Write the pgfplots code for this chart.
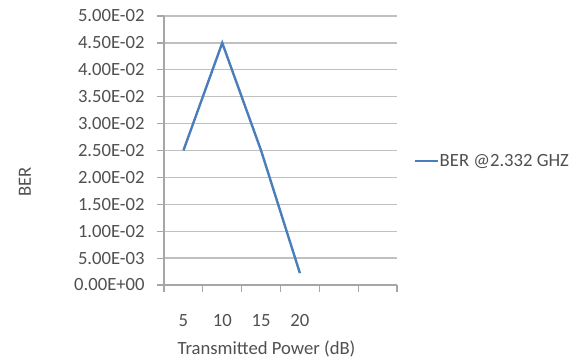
\documentclass[border=0pt]{standalone}
\usepackage{fontspec}
\setmainfont{Carlito}
\usepackage{pgfplots}
\pgfplotsset{compat=1.18}
\definecolor{txt}{HTML}{505050}
\definecolor{gridc}{HTML}{C0C0C0}
\definecolor{axc}{HTML}{A6A6A6}
\definecolor{ser}{HTML}{4A7EBB}
\begin{document}
\begin{tikzpicture}
\useasboundingbox (0,0) rectangle (436.5pt,270.75pt);
\begin{axis}[
  at={(123pt,57pt)}, anchor=south west,
  scale only axis, width=174.75pt, height=201.75pt,
  xmin=0, xmax=6, ymin=0, ymax=0.05,
  axis line style={axc, line width=0.9pt},
  axis x line*=bottom, axis y line*=left,
  xtick={0,1,2,3,4,5,6}, xticklabels={},
  extra x ticks={0.5,1.5,2.5,3.5},
  extra x tick labels={5,10,15,20},
  extra x tick style={major tick length=0pt, xticklabel style={yshift=-18.5pt}},
  ytick={0,0.005,0.01,0.015,0.02,0.025,0.03,0.035,0.04,0.045,0.05},
  yticklabels={0.00E+00,5.00E-03,1.00E-02,1.50E-02,2.00E-02,2.50E-02,3.00E-02,3.50E-02,4.00E-02,4.50E-02,5.00E-02},
  scaled y ticks=false,
  tick align=outside, major tick length=5pt,
  tick style={axc, line width=0.9pt},
  ymajorgrids, grid style={gridc, line width=1pt},
  ticklabel style={font=\fontsize{14}{16}\selectfont, text=txt},
  yticklabel style={xshift=-6pt},
  xlabel={Transmitted Power (dB)},
  ylabel={BER},
  label style={font=\fontsize{14}{16}\selectfont, text=txt},
  xlabel style={at={(axis description cs:0.44,-0.238)}, anchor=center},
  ylabel style={at={(axis description cs:-0.597,0.383)}, anchor=center},
  legend style={at={(axis description cs:1.069,0.461)}, anchor=west, draw=none, fill=none,
    inner sep=0pt, font=\fontsize{14}{16}\selectfont, text=txt,
    nodes={inner sep=0.5pt}},
  legend image code/.code={\draw[#1] (0pt,0pt) -- (17.5pt,0pt);},
  clip=false,
]
\addplot[ser, line width=1.8pt, mark=none] coordinates {
  (0.5,0.025) (1.5,0.045) (2.5,0.025) (3.5,0.0022)
};
\addlegendentry{BER @2.332 GHZ}
\end{axis}
\end{tikzpicture}
\end{document}
